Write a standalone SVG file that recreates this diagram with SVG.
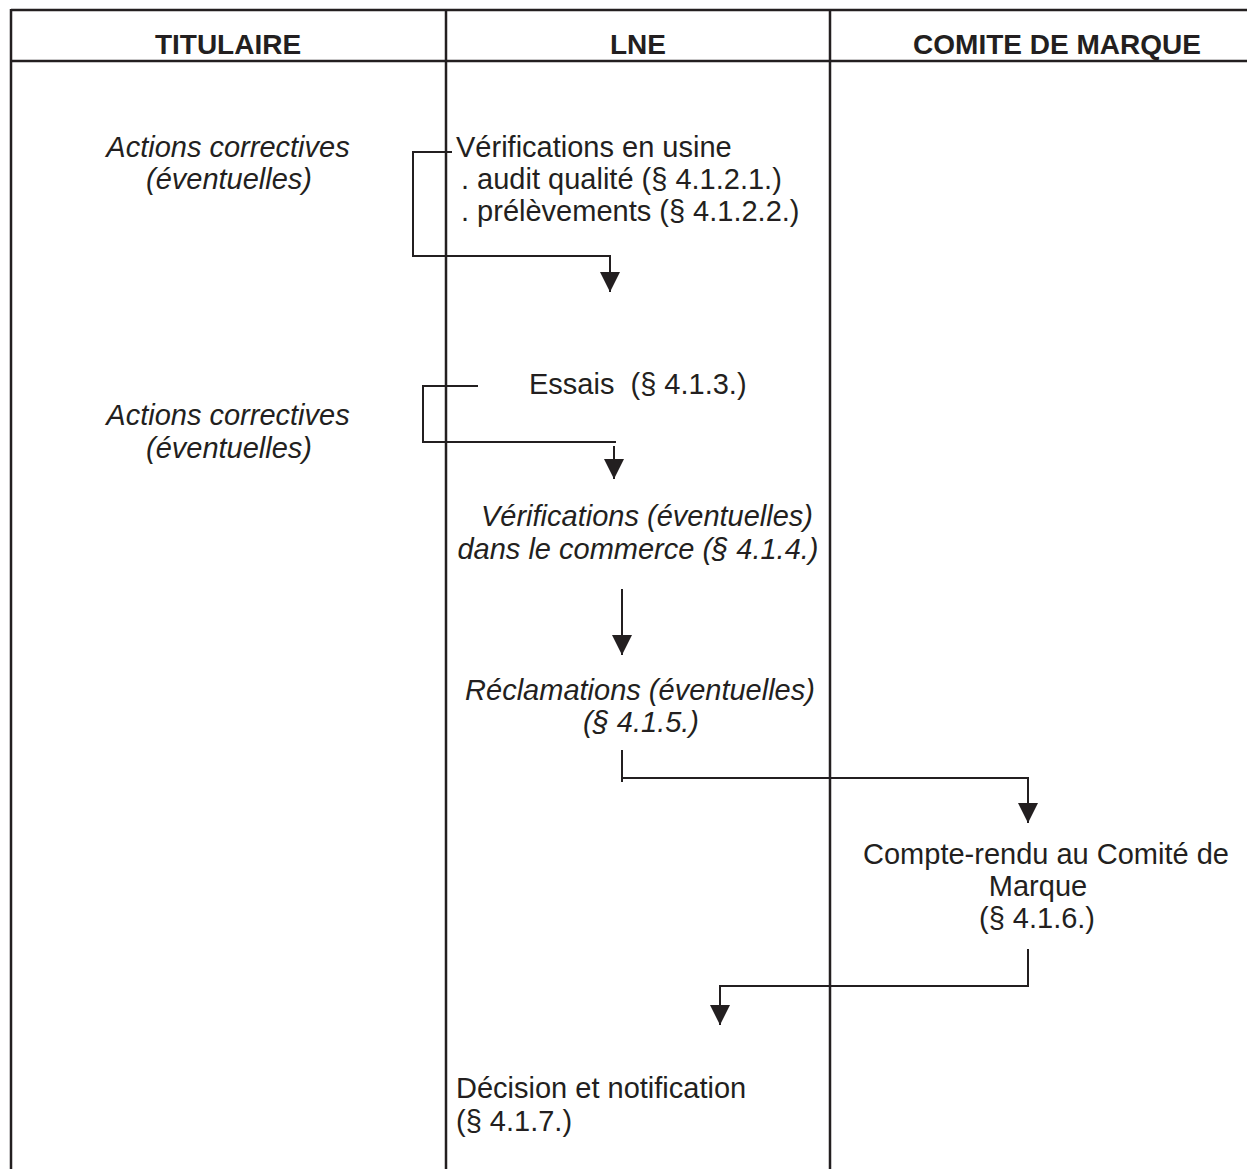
<svg xmlns="http://www.w3.org/2000/svg" width="1247" height="1169" viewBox="0 0 1247 1169">
<style>
.t{font-family:"Liberation Sans",Arial,sans-serif;font-size:29px;fill:#231f20}
.i{font-style:italic}
.h{font-weight:bold;font-size:28px}
.m{text-anchor:middle}
.grid line{stroke:#231f20;stroke-width:2.5}
.c{fill:none;stroke:#231f20;stroke-width:2}
</style>
<defs>
<marker id="arr" viewBox="0 0 20 20" refX="20" refY="10" markerWidth="20" markerHeight="20" markerUnits="userSpaceOnUse" orient="auto">
<path d="M0,0 L20,10 L0,20 z" fill="#231f20"/>
</marker>
</defs>
<rect width="1247" height="1169" fill="#fff"/>
<g id="table" class="grid">
<line x1="11" y1="10" x2="1247" y2="10"/>
<line x1="11" y1="61" x2="1247" y2="61"/>
<line x1="11" y1="9" x2="11" y2="1169"/>
<line x1="446" y1="10" x2="446" y2="1169"/>
<line x1="830" y1="10" x2="830" y2="1169"/>
</g>
<g id="headers">
<text class="t h m" x="228" y="54">TITULAIRE</text>
<text class="t h m" x="638" y="54">LNE</text>
<text class="t h m" x="1057" y="54">COMITE DE MARQUE</text>
</g>
<g id="connectors">
<polyline class="c" points="452,152 413,152 413,256 610,256 610,292" marker-end="url(#arr)"/>
<polyline class="c" points="478,386 423,386 423,442 616,442"/>
<polyline class="c" points="614,446 614,479" marker-end="url(#arr)"/>
<polyline class="c" points="622,589 622,655" marker-end="url(#arr)"/>
<polyline class="c" points="622,750 622,782"/>
<polyline class="c" points="622,778 1028,778 1028,823" marker-end="url(#arr)"/>
<polyline class="c" points="1028,949 1028,986 720,986 720,1025" marker-end="url(#arr)"/>
</g>
<g id="actions1">
<text class="t i m" x="228" y="157">Actions correctives</text>
<text class="t i m" x="229" y="189">(éventuelles)</text>
</g>
<g id="actions2">
<text class="t i m" x="228" y="425">Actions correctives</text>
<text class="t i m" x="229" y="458">(éventuelles)</text>
</g>
<g id="verif-usine">
<text class="t" x="456" y="157">Vérifications en usine</text>
<text class="t" x="461" y="189">. audit qualité (§ 4.1.2.1.)</text>
<text class="t" x="461" y="221">. prélèvements (§ 4.1.2.2.)</text>
</g>
<g id="essais">
<text class="t" x="529" y="394" xml:space="preserve">Essais  (§ 4.1.3.)</text>
</g>
<g id="verif-commerce">
<text class="t i m" x="647" y="526">Vérifications (éventuelles)</text>
<text class="t i m" x="638" y="559">dans le commerce (§ 4.1.4.)</text>
</g>
<g id="reclamations">
<text class="t i m" x="640" y="700">Réclamations (éventuelles)</text>
<text class="t i m" x="641" y="732">(§ 4.1.5.)</text>
</g>
<g id="compte-rendu">
<text class="t m" x="1046" y="864">Compte-rendu au Comité de</text>
<text class="t m" x="1038" y="896">Marque</text>
<text class="t m" x="1037" y="928">(§ 4.1.6.)</text>
</g>
<g id="decision">
<text class="t" x="456" y="1098">Décision et notification</text>
<text class="t" x="456" y="1131">(§ 4.1.7.)</text>
</g>
</svg>
